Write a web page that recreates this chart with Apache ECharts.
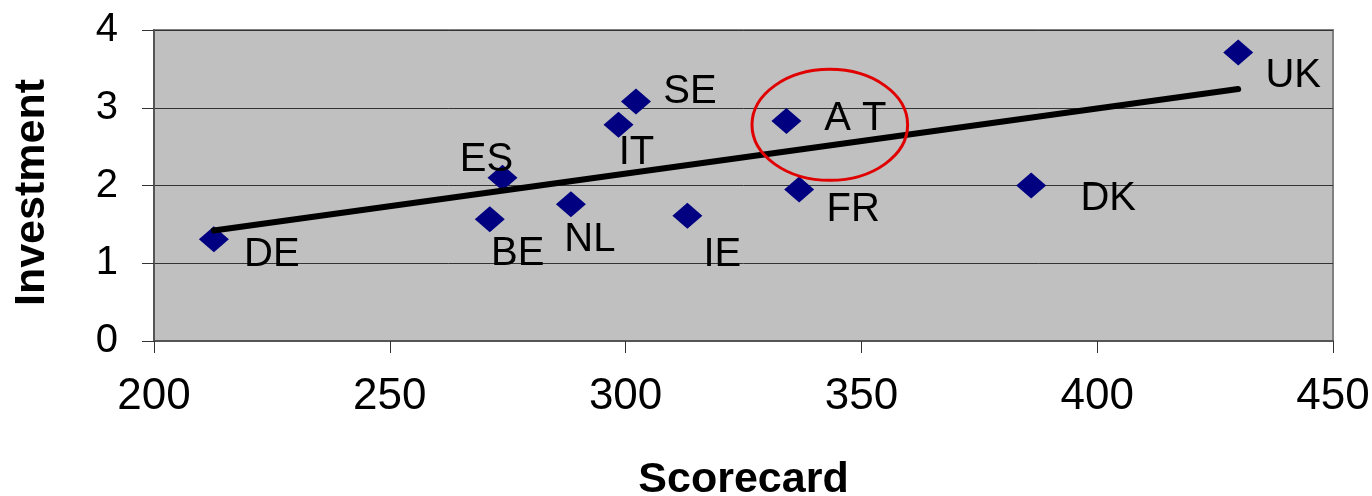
<!DOCTYPE html>
<html>
<head>
<meta charset="utf-8">
<script src="https://cdn.jsdelivr.net/npm/echarts@6/dist/echarts.min.js"></script>
<style>
html,body{margin:0;padding:0;background:#fff;}
#chart{width:1372px;height:496px;}
</style>
</head>
<body>
<div id="chart"></div>
<script>
// ---- data ----
var countries = ['DE','ES','BE','NL','IT','SE','IE','AT','FR','DK','UK'];
var labelTexts = ['DE','ES','BE','NL','IT','SE','IE','A T','FR','DK','UK'];
var scorecard = [212.7, 273.9, 271.2, 288.4, 298.5, 302.2, 313.1, 334.1, 336.8, 386.0, 429.9];
var investment = [1.31, 2.10, 1.565, 1.76, 2.78, 3.08, 1.61, 2.83, 1.95, 2.00, 3.71];
var trendX = [212.7, 429.9];
var trendY = [1.42, 3.24];
var xTicks = [200, 250, 300, 350, 400, 450];
var yTicks = [0, 1, 2, 3, 4];
var highlightCenter = [343.3, 2.78];
var highlightRadius = [16.5, 0.714];

// ---- label placement (pixel offsets, style only) ----
var labelOffsets = {
  DE:[58,16], ES:[-16,-18], BE:[28,35], NL:[19,36], IT:[18,28], SE:[54,-10],
  IE:[35,39], AT:[69,-2], FR:[54,21], DK:[77,13], UK:[55,23]
};

var FONT = '"Liberation Sans", Arial, sans-serif';

var scatterData = countries.map(function(c, i){
  return {
    value: [scorecard[i], investment[i]],
    label: {
      show: true,
      formatter: labelTexts[i],
      position: 'inside',
      offset: labelOffsets[c],
      color: '#000',
      textBorderWidth: 0,
      fontFamily: FONT,
      fontSize: 40
    }
  };
});
var trendData = trendX.map(function(x, i){ return [x, trendY[i]]; });

var chart = echarts.init(document.getElementById('chart'), null, {renderer:'canvas'});
var option = {
  animation: false,
  backgroundColor: '#ffffff',
  grid: {
    left: 154, right: 39, top: 30, bottom: 155,
    outerBoundsMode: 'none', containLabel: false,
    show: true, backgroundColor: '#c0c0c0', borderColor: '#808080', borderWidth: 2
  },
  xAxis: {
    type: 'value', min: xTicks[0], max: xTicks[xTicks.length-1], interval: 50,
    name: 'Scorecard', nameLocation: 'middle', nameGap: 118,
    nameTextStyle: {fontFamily: FONT, fontSize: 43, fontWeight: 'bold', color: '#000'},
    axisLine: {show: true, lineStyle: {color: '#555', width: 2}},
    axisTick: {show: true, length: 12, lineStyle: {color: '#333', width: 1}},
    axisLabel: {fontFamily: FONT, fontSize: 44, color: '#000', margin: 34},
    splitLine: {show: false}
  },
  yAxis: {
    type: 'value', min: yTicks[0], max: yTicks[yTicks.length-1], interval: 1,
    name: 'Investment', nameLocation: 'middle', nameGap: 100,
    nameTextStyle: {fontFamily: FONT, fontSize: 43, fontWeight: 'bold', color: '#000', padding: [0, 14, 0, 0]},
    axisLine: {show: true, lineStyle: {color: '#555', width: 2}},
    axisTick: {show: true, length: 12, lineStyle: {color: '#333', width: 1}},
    axisLabel: {fontFamily: FONT, fontSize: 40, color: '#000', margin: 36},
    splitLine: {show: true, lineStyle: {color: '#333', width: 1}}
  },
  series: [
    {
      type: 'scatter', z: 2,
      symbol: 'diamond', symbolSize: [30, 26],
      itemStyle: {color: '#000080', opacity: 1},
      data: scatterData
    },
    {
      type: 'line', z: 3, symbol: 'none', silent: true,
      lineStyle: {color: '#000', width: 6, cap: 'round'},
      data: trendData
    }
  ]
};
chart.setOption(option);

var c = chart.convertToPixel({gridIndex: 0}, highlightCenter);
var e = chart.convertToPixel({gridIndex: 0}, [highlightCenter[0] + highlightRadius[0], highlightCenter[1] + highlightRadius[1]]);
chart.setOption({
  graphic: [{
    type: 'ellipse', z: 10,
    shape: {cx: c[0], cy: c[1], rx: Math.abs(e[0]-c[0]), ry: Math.abs(e[1]-c[1])},
    style: {fill: 'none', stroke: '#e00000', lineWidth: 3}
  }]
});
</script>
</body>
</html>
